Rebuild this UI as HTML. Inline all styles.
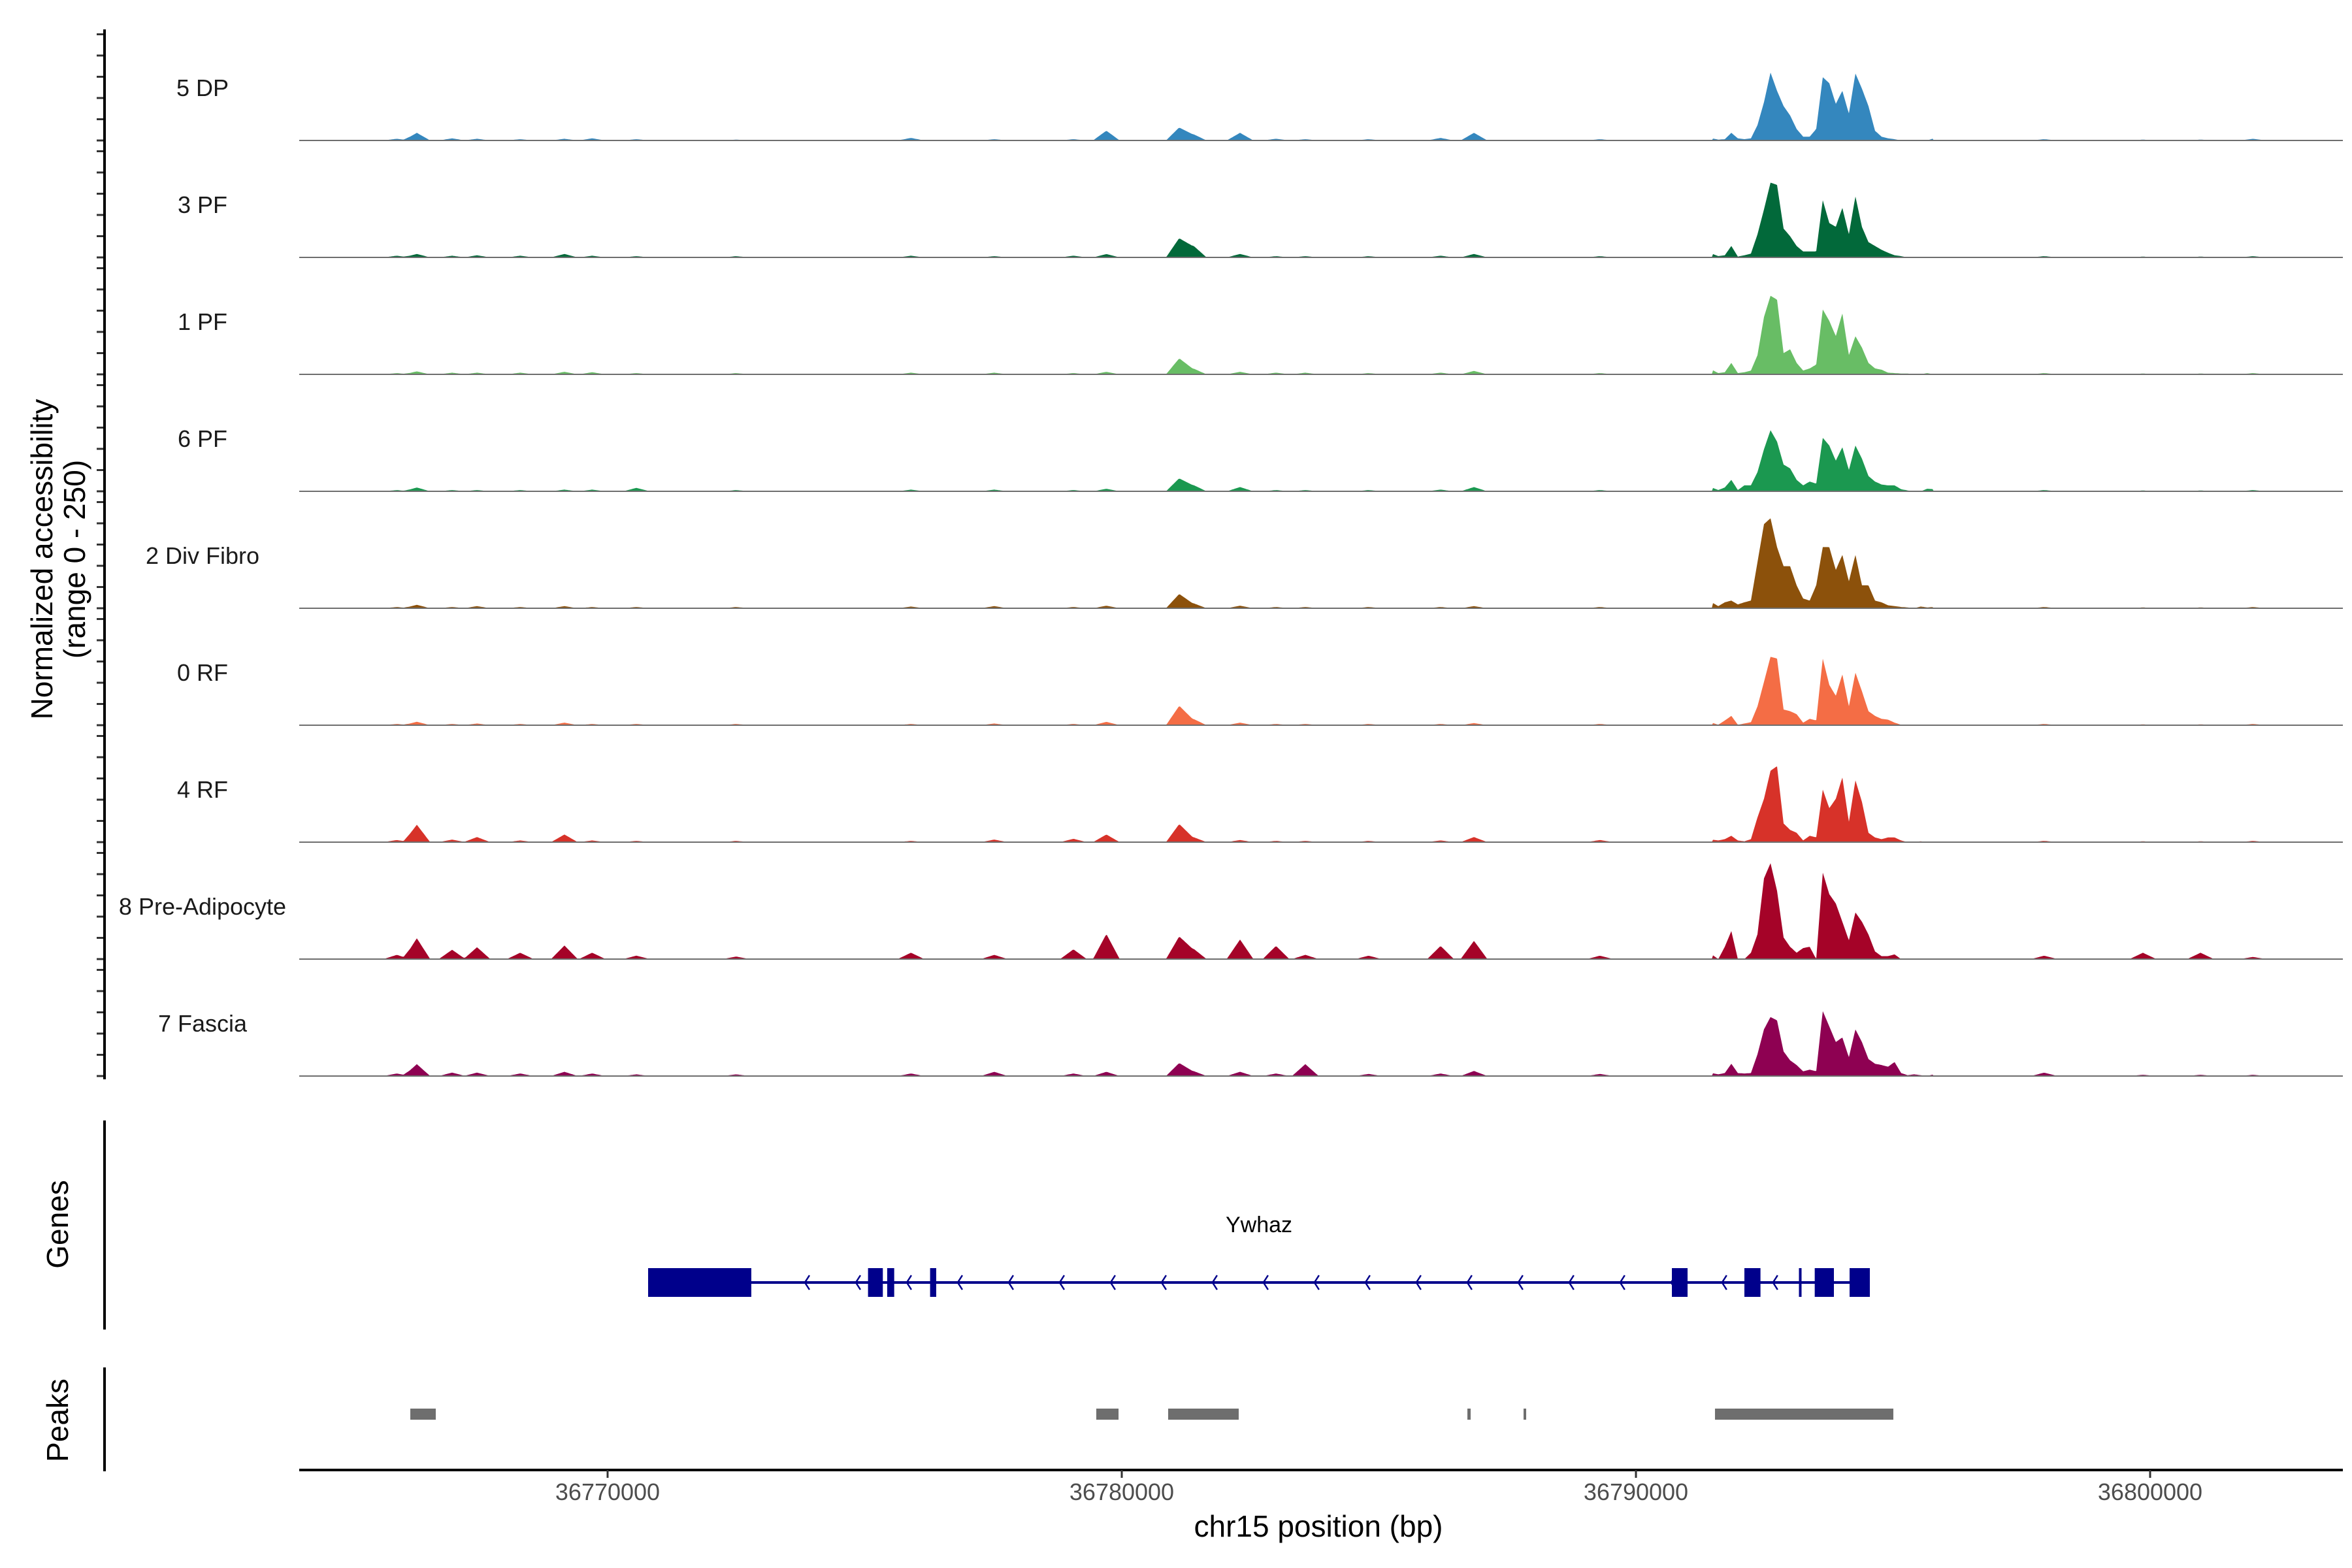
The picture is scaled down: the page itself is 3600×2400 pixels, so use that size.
<!DOCTYPE html>
<html><head><meta charset="utf-8">
<style>
html,body{margin:0;padding:0;background:#fff;}
svg{display:block;font-family:"Liberation Sans",Arial,sans-serif;}
</style></head>
<body>
<svg id="chart" width="3600" height="2400" viewBox="0 0 3600 2400" xmlns="http://www.w3.org/2000/svg">
<rect width="3600" height="2400" fill="#fff"/>
<g id="tracks"></g>
<g id="yaxis"></g>
<text transform="translate(80,856) rotate(-90)" text-anchor="middle" font-size="46" fill="#000">Normalized accessibility</text>
<text transform="translate(130,856) rotate(-90)" text-anchor="middle" font-size="46" fill="#000">(range 0 - 250)</text>
<g id="genes"></g>
<g id="peaks"></g>
<g id="xaxis"></g>
</svg>
<script>
const trackNames = ["5 DP","3 PF","1 PF","6 PF","2 Div Fibro","0 RF","4 RF","8 Pre-Adipocyte","7 Fascia"];
const trackColors = ["#3487be","#02693a","#68bd65","#1b9850","#8c510b","#f46d45","#d73229","#a50328","#8e0152"];
// main peak region samples (bp start + step)
const mainStart = 36791474;
const mainStep = 127;
const main5DP = [5,2,3,18,5,3,5,36,90,160,117,81,59,27,9,9,27,149,135,86,117,63,158,122,81,23,9,5,3,0,0,0,0,0,5];
const main3PF = [9,3,5,27,2,5,9,54,113,176,171,68,50,27,14,14,14,135,81,72,117,54,144,72,36,27,18,11,5,3,0,0,0,0,0];
const main1PF = [11,3,5,27,3,5,9,45,135,185,176,50,59,27,9,14,23,153,126,90,144,45,90,63,27,14,11,4,3,2,2,0,0,3,0];
const main6PF = [9,3,9,27,3,14,14,45,99,144,117,63,54,27,14,23,18,126,108,72,104,50,108,77,36,23,16,14,14,5,2,0,0,6,5];
const main2DF = [14,5,14,18,9,14,18,108,198,212,144,99,99,54,23,18,54,144,144,90,126,63,126,54,54,18,14,7,5,3,2,0,4,2,3];
const main0RF = [6,1,11,22,1,4,7,44,102,161,157,37,33,26,6,15,11,157,95,69,120,44,124,80,33,22,15,13,6,1,0,0,0,0,0];
const main4RF = [6,4,7,15,4,2,7,58,102,168,179,44,29,22,4,15,11,124,80,102,153,47,146,95,22,11,7,11,11,4,0,0,2,0,0];
const main8PA = [11,0,29,66,0,0,15,58,190,226,161,51,29,15,26,29,0,204,153,131,88,44,110,88,58,18,7,7,11,0,0,0,0,0,0];
const main7F  = [7,4,7,29,7,6,7,51,110,139,131,58,37,26,11,15,11,153,117,80,91,44,110,80,40,29,26,22,33,7,2,4,2,0,4];
// background bump positions (bp) and per-track values
const bumpPos = [36765900,36766290,36766976,36767460,36768300,36769160,36769700,36770560,36772500,36775900,36777520,36779060,36779700,36781120,36781390,36782300,36783000,36783570,36784800,36786200,36786850,36789300,36797940,36799860,36800980,36802000];
const bump5DP = [4,18,5,4,3,4,5,3,2,6,3,3,23,31,15,18,4,3,3,6,18,3,3,2,2,4];
const bump3PF = [4,8,4,5,4,8,4,3,3,4,3,4,8,46,28,8,3,3,3,4,8,3,3,2,2,3];
const bump1PF = [3,7,4,4,4,6,5,3,3,4,4,3,6,38,14,6,4,4,3,4,8,3,3,2,2,3];
const bump6PF = [3,9,3,3,3,4,4,8,3,4,4,3,6,31,15,10,3,3,3,4,10,3,3,2,2,3];
const bump2DF = [3,8,3,5,3,5,3,3,3,4,5,3,6,34,12,6,3,3,3,3,5,3,3,2,2,3];
const bump0RF = [3,8,3,4,3,6,3,3,3,3,4,3,8,46,15,6,3,3,3,3,5,3,3,2,2,3];
const bump4RF = [5,41,6,12,4,18,4,3,3,3,6,8,18,43,12,5,3,3,3,4,12,5,3,2,2,3];
const bump8PA = [10,49,22,28,15,32,15,8,6,15,10,23,59,54,25,46,31,10,8,31,43,8,8,15,15,5];
const bump7F  = [6,28,8,8,6,10,6,4,4,6,10,6,10,31,12,10,6,28,5,6,12,5,8,3,3,3];
const mains = [main5DP,main3PF,main1PF,main6PF,main2DF,main0RF,main4RF,main8PA,main7F];
const bumps = [bump5DP,bump3PF,bump1PF,bump6PF,bump2DF,bump0RF,bump4RF,bump8PA,bump7F];
// genes & peaks
const geneName = "Ywhaz";
const geneStart = 36770788, geneEnd = 36794549;
const exonStarts = [36770788,36775065,36775438,36776272,36790699,36792109,36793170,36793477,36794155];
const exonEnds   = [36772795,36775353,36775574,36776391,36791004,36792422,36793221,36793850,36794549];
const peakStarts = [36766163,36779504,36780902,36786722,36787814,36791537];
const peakEnds   = [36766658,36779937,36782274,36786785,36787865,36795006];
const xTicks = [36770000,36780000,36790000,36800000];
const yTickVals = [0,50,100,150,200,250];

const NS="http://www.w3.org/2000/svg";
const X0=458, X1=3586;
const pxPerBp = 0.0787;
function xs(bp){return 930 + (bp-36770000)*pxPerBp;}
function xinv(x){return 36770000 + (x-930)/pxPerBp;}
const base0=215, trackGap=179, yMaxPx=162.5;
function ys(v,i){return base0+i*trackGap - Math.min(v,250)/250*yMaxPx;}
function mk(tag,attrs,parent){const e=document.createElementNS(NS,tag);for(const k in attrs)e.setAttribute(k,attrs[k]);parent.appendChild(e);return e;}

function valueAt(i,bp){
  let v=0;
  const m=mains[i];
  const t=(bp-mainStart)/mainStep;
  if(t>=0 && t<=m.length-1){const k=Math.floor(t),f=t-k;v+=m[k]*(1-f)+(k+1<m.length?m[k+1]:0)*f;}
  const b=bumps[i];
  for(let j=0;j<bumpPos.length;j++){const d=Math.abs(bp-bumpPos[j]);if(d<260)v+=b[j]*(1-d/260);}
  return v;
}

const tg=document.getElementById('tracks');
const ya=document.getElementById('yaxis');
trackNames.forEach((name,i)=>{
  const base=base0+i*trackGap;
  let d=`M${X0},${base}`;
  for(let x=X0;x<=X1;x+=2){d+=`L${x},${ys(valueAt(i,xinv(x)),i).toFixed(1)}`;}
  d+=`L${X1},${base}Z`;
  const p=mk('path',{d:d,fill:trackColors[i]},tg);
  
  
  const bl=mk('line',{x1:X0,x2:X1,y1:base,y2:base,stroke:'#6e6e6e','stroke-width':2},tg);
  
  
  const lb=mk('text',{x:310,y:base-68,'text-anchor':'middle','font-size':36,fill:'#1a1a1a'},tg);
  lb.textContent=name;
  
  
  yTickVals.forEach(v=>{
    const tk=mk('line',{x1:148,x2:160,y1:ys(v,i),y2:ys(v,i),stroke:'#333','stroke-width':3},ya);
    
    
  });
});
const yl=mk('line',{x1:160,x2:160,y1:45,y2:1652,stroke:'#000','stroke-width':4},ya);



// genes
const gg=document.getElementById('genes');
const ga=mk('line',{x1:160,x2:160,y1:1715,y2:2035,stroke:'#000','stroke-width':4},gg);


const gt=mk('text',{transform:'translate(104,1874) rotate(-90)','text-anchor':'middle','font-size':46,fill:'#000'},gg);
gt.textContent='Genes';


const gl=mk('text',{x:xs((geneStart+geneEnd)/2),y:1886,'text-anchor':'middle','font-size':34,fill:'#000'},gg);
gl.textContent=geneName;


const gline=mk('line',{x1:xs(geneStart),x2:xs(geneEnd),y1:1963,y2:1963,stroke:'#00008b','stroke-width':4},gg);


for(let bp=36773875;bp<geneEnd;bp+=991){
  const cx=xs(bp);
  const ch=mk('polyline',{points:`${cx+4},1952 ${cx-3},1963 ${cx+4},1974`,fill:'none',stroke:'#00008b','stroke-width':2.5},gg);
  
  
}
exonStarts.forEach((s,k)=>{
  const r=mk('rect',{x:xs(s),y:1941,width:Math.max(3,xs(exonEnds[k])-xs(s)),height:44,fill:'#00008b'},gg);
  
  
});

// peaks
const pg=document.getElementById('peaks');
const pa=mk('line',{x1:160,x2:160,y1:2093,y2:2252,stroke:'#000','stroke-width':4},pg);


const pt=mk('text',{transform:'translate(104,2174) rotate(-90)','text-anchor':'middle','font-size':46,fill:'#000'},pg);
pt.textContent='Peaks';


peakStarts.forEach((s,k)=>{
  const r=mk('rect',{x:xs(s),y:2156,width:Math.max(4,xs(peakEnds[k])-xs(s)),height:17,fill:'#6e6e6e'},pg);
  
  
});

// x axis
const xg=document.getElementById('xaxis');
const xl=mk('line',{x1:X0,x2:X1,y1:2250,y2:2250,stroke:'#000','stroke-width':4},xg);


xTicks.forEach(t=>{
  const tk=mk('line',{x1:xs(t),x2:xs(t),y1:2250,y2:2262,stroke:'#333','stroke-width':3},xg);
  
  
  const tl=mk('text',{x:xs(t),y:2296,'text-anchor':'middle','font-size':36,fill:'#4d4d4d'},xg);
  tl.textContent=String(t);
  
  
});
const xt=mk('text',{x:2018,y:2352,'text-anchor':'middle','font-size':46,fill:'#000'},xg);
xt.textContent='chr15 position (bp)';


</script>
</body></html>
